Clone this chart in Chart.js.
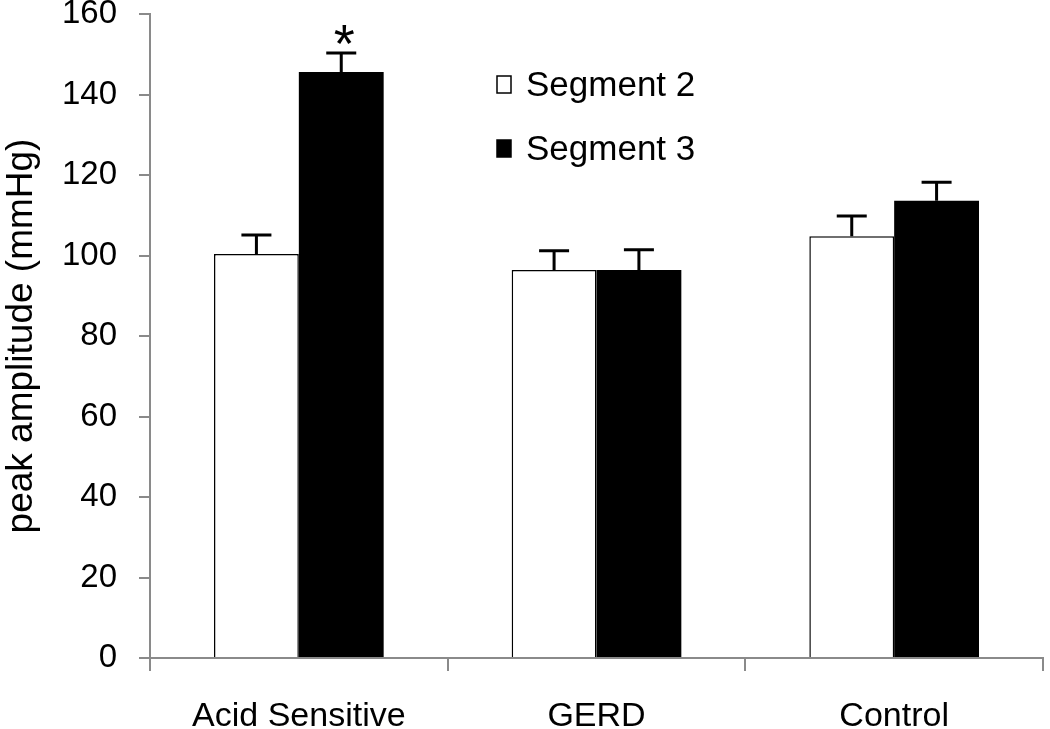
<!DOCTYPE html>
<html lang="en">
<head>
<meta charset="UTF-8">
<title>Peak amplitude by segment</title>
<script src="https://cdn.jsdelivr.net/npm/chart.js"></script>
<style>
  html, body { margin: 0; padding: 0; background: #fff; }
  #wrap { width: 1050px; height: 729px; }
</style>
</head>
<body>
<div id="wrap"><canvas id="chart" width="1050" height="729"></canvas></div>
<script>
// values (mmHg)
const categories = ['Acid Sensitive', 'GERD', 'Control'];
const segment2 = [100.4, 96.4, 104.8];
const segment3 = [145.6, 96.4, 113.6];
const segment2Err = [4.7, 4.8, 5.0];
const segment3Err = [4.7, 5.0, 4.6];
const seriesNames = ['Segment 2', 'Segment 3'];
const starred = [{ dataset: 1, index: 0 }];

const FONT = "'Liberation Sans', Arial, sans-serif";
const AXIS = '#8a8a8a';

// error bars (upper only), asterisk and the little in-plot legend
const extras = {
  id: 'extras',
  afterDatasetsDraw(chart) {
    const ctx = chart.ctx;
    const y = chart.scales.y;
    const errs = [segment2Err, segment3Err];
    ctx.save();
    ctx.strokeStyle = '#000';
    ctx.lineWidth = 3;
    chart.data.datasets.forEach((ds, di) => {
      const meta = chart.getDatasetMeta(di);
      meta.data.forEach((bar, i) => {
        const top = y.getPixelForValue(ds.data[i]);
        const cap = y.getPixelForValue(ds.data[i] + errs[di][i]);
        ctx.beginPath();
        ctx.moveTo(bar.x, top);
        ctx.lineTo(bar.x, cap);
        ctx.moveTo(bar.x - 15, cap);
        ctx.lineTo(bar.x + 15, cap);
        ctx.stroke();
      });
    });
    ctx.fillStyle = '#000';
    ctx.font = '54px ' + FONT;
    ctx.textAlign = 'center';
    ctx.textBaseline = 'middle';
    starred.forEach(s => {
      const bar = chart.getDatasetMeta(s.dataset).data[s.index];
      const v = chart.data.datasets[s.dataset].data[s.index] + errs[s.dataset][s.index];
      ctx.fillText('*', bar.x + 3, y.getPixelForValue(v) - 6);
    });

    // legend
    ctx.font = '35px ' + FONT;
    ctx.textAlign = 'left';
    const rows = [85, 149];
    seriesNames.forEach((name, k) => {
      const ds = chart.data.datasets[k];
      ctx.fillStyle = ds.backgroundColor;
      ctx.fillRect(497, rows[k] - 9, 14, 17);
      ctx.lineWidth = 1.5;
      ctx.strokeStyle = '#000';
      ctx.strokeRect(497, rows[k] - 9, 14, 17);
      ctx.fillStyle = '#000';
      ctx.fillText(name, 526, rows[k] + 1);
    });
    ctx.restore();
  }
};

new Chart(document.getElementById('chart'), {
  type: 'bar',
  data: {
    labels: categories,
    datasets: [
      { label: seriesNames[0], data: segment2, backgroundColor: '#ffffff', borderColor: '#000', borderWidth: 1.5 },
      { label: seriesNames[1], data: segment3, backgroundColor: '#000000', borderColor: '#000', borderWidth: 0 }
    ]
  },
  options: {
    responsive: false,
    animation: false,
    layout: { padding: { top: 0, right: 7, left: 0, bottom: 0 } },
    plugins: { legend: { display: false }, tooltip: { enabled: false } },
    datasets: { bar: { categoryPercentage: 0.57, barPercentage: 1.0 } },
    scales: {
      x: {
        grid: { offset: true, drawOnChartArea: false, drawTicks: true, tickLength: 13, color: AXIS, lineWidth: 2 },
        border: { color: AXIS, width: 2 },
        ticks: { color: '#000', font: { family: FONT, size: 34 }, padding: 25 },
        afterFit: s => { s.height = 71; }
      },
      y: {
        min: 0, max: 160,
        ticks: { stepSize: 20, color: '#000', font: { family: FONT, size: 33 }, padding: 22 },
        grid: { drawOnChartArea: false, drawTicks: true, tickLength: 11, color: AXIS, lineWidth: 2 },
        border: { color: AXIS, width: 2 },
        title: { display: true, text: 'peak amplitude (mmHg)', color: '#000', font: { family: FONT, size: 37 }, padding: { top: 0, bottom: 0 } },
        afterFit: s => { s.width = 150; s.paddingTop = 14; s.paddingBottom = 0; }
      }
    }
  },
  plugins: [extras]
});
</script>
</body>
</html>
